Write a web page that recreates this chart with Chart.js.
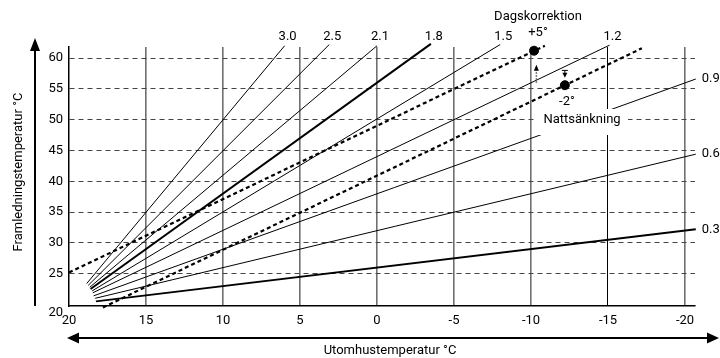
<!DOCTYPE html>
<html>
<head>
<meta charset="utf-8">
<script src="https://cdn.jsdelivr.net/npm/chart.js@4/dist/chart.umd.min.js"></script>
<style>
  html, body { margin: 0; padding: 0; background: #fff; }
  #wrap { width: 720px; height: 358px; position: relative; }
</style>
</head>
<body>
<div id="wrap"><canvas id="chart"></canvas></div>
<script>
// heating curves: where each drawn line starts and stops (outdoor °C, flow °C)
const curveLabels = ["3.0", "2.5", "2.1", "1.8", "1.5", "1.2", "0.9", "0.6", "0.3"];
const curveStartOut = [18.85, 18.75, 18.65, 18.6, 18.5, 18.45, 18.4, 18.3, 18.25];
const curveStartFlow = [23.4, 23.1, 22.8, 22.5, 22.2, 21.9, 21.4, 21.0, 20.5];
const curveEndOut = [6.0, 3.1, 0.0, -3.5, -8.0, -15.1, -20.7, -20.7, -20.7];
const curveEndFlow = [62.0, 62.2, 62.0, 62.3, 62.2, 62.1, 56.6, 44.4, 32.2];
const curveBold = [false, false, false, true, false, false, false, false, true];

// shifted curves (dashed)
const dayShiftOut = [20, -10.9];
const dayShiftFlow = [25.2, 62.0];
const nightShiftOut = [17.8, -17.2];
const nightShiftFlow = [19.5, 61.6];

// marked points and the little arrows pointing at them
const markOut = [-10.2, -12.2];
const markFlow = [61.2, 55.6];
const arrowOut = [-10.35, -12.2];
const arrowFrom = [56.0, 58.0];
const arrowTo = [58.9, 56.8];

const xTicks = [20, 15, 10, 5, 0, -5, -10, -15, -20];
const yTicks = [20, 25, 30, 35, 40, 45, 50, 55, 60];

const FONT = "Roboto, 'Liberation Sans', sans-serif";
Chart.defaults.font.family = FONT;
Chart.defaults.font.size = 13;
Chart.defaults.color = "#000";

const datasets = curveLabels.map((lab, i) => ({
  label: lab,
  data: [{ x: curveStartOut[i], y: curveStartFlow[i] }, { x: curveEndOut[i], y: curveEndFlow[i] }],
  showLine: true,
  borderColor: "#000",
  borderWidth: curveBold[i] ? 2 : 1,
  pointRadius: 0,
  clip: false
}));

function dashed(name, xs, ys) {
  return {
    label: name,
    data: xs.map((v, i) => ({ x: v, y: ys[i] })),
    showLine: true,
    borderColor: "#000",
    borderWidth: 2.2,
    borderDash: [4, 3],
    pointRadius: 0,
    clip: false
  };
}
datasets.push(dashed("dag", dayShiftOut, dayShiftFlow));
datasets.push(dashed("natt", nightShiftOut, nightShiftFlow));
datasets.push({
  label: "punkter",
  data: markOut.map((v, i) => ({ x: v, y: markFlow[i] })),
  showLine: false,
  pointRadius: 4.5,
  pointBackgroundColor: "#000",
  pointBorderColor: "#000",
  clip: false
});

function text(ctx, str, x, y, align) {
  ctx.textAlign = align || "center";
  ctx.textBaseline = "middle";
  ctx.fillText(str, x, y);
}

const decor = {
  id: "decor",
  afterDatasetsDraw(chart) {
    const { ctx, scales: { x, y } } = chart;
    ctx.save();
    ctx.fillStyle = "#000";
    ctx.strokeStyle = "#000";
    ctx.font = "13px " + FONT;

    // up arrow (dagskorrektion)
    let ax = x.getPixelForValue(arrowOut[0]);
    let a0 = y.getPixelForValue(arrowFrom[0]);
    let a1 = y.getPixelForValue(arrowTo[0]);
    ctx.strokeStyle = "#555";
    ctx.lineWidth = 1.5;
    ctx.setLineDash([1.5, 1.5]);
    ctx.beginPath(); ctx.moveTo(ax, a0); ctx.lineTo(ax, a1 + 5); ctx.stroke();
    ctx.setLineDash([]);
    ctx.beginPath(); ctx.moveTo(ax, a1); ctx.lineTo(ax - 2.5, a1 + 6); ctx.lineTo(ax + 2.5, a1 + 6); ctx.closePath(); ctx.fill();

    // down arrow (nattsänkning)
    ax = x.getPixelForValue(arrowOut[1]);
    a0 = y.getPixelForValue(arrowFrom[1]);
    a1 = y.getPixelForValue(arrowTo[1]);
    ctx.strokeStyle = "#000";
    ctx.lineWidth = 1;
    ctx.beginPath(); ctx.moveTo(ax - 3, a0); ctx.lineTo(ax + 3, a0); ctx.moveTo(ax, a0); ctx.lineTo(ax, a1 - 4); ctx.stroke();
    ctx.beginPath(); ctx.moveTo(ax, a1); ctx.lineTo(ax - 2.5, a1 - 5); ctx.lineTo(ax + 2.5, a1 - 5); ctx.closePath(); ctx.fill();

    // annotation texts
    text(ctx, "Dagskorrektion", 538, 17);
    text(ctx, "+5°", 538, 33);
    text(ctx, "-2°", 567, 102);
    ctx.fillStyle = "#fff";
    ctx.fillRect(535, 109, 93, 26);
    ctx.fillStyle = "#000";
    text(ctx, "Nattsänkning", 582, 120);

    // curve labels at the line ends
    curveLabels.forEach((lab, i) => {
      const p = chart.getDatasetMeta(i).data[1];
      if (curveEndFlow[i] > 60) text(ctx, lab, p.x + 3, 37);
      else text(ctx, lab, p.x + 6, p.y, "left");
    });
    ctx.restore();
  },
  afterDraw(chart) {
    const { ctx } = chart;
    ctx.save();
    ctx.fillStyle = "#000";
    ctx.strokeStyle = "#000";
    ctx.lineWidth = 2;
    // vertical axis arrow
    ctx.beginPath(); ctx.moveTo(35, 306); ctx.lineTo(35, 50); ctx.stroke();
    ctx.beginPath(); ctx.moveTo(35, 38); ctx.lineTo(30, 51); ctx.lineTo(40, 51); ctx.closePath(); ctx.fill();
    // horizontal double arrow
    ctx.beginPath(); ctx.moveTo(78, 338); ctx.lineTo(707, 338); ctx.stroke();
    ctx.beginPath(); ctx.moveTo(67, 338); ctx.lineTo(79, 332.5); ctx.lineTo(79, 343.5); ctx.closePath(); ctx.fill();
    ctx.beginPath(); ctx.moveTo(719, 338); ctx.lineTo(707, 332.5); ctx.lineTo(707, 343.5); ctx.closePath(); ctx.fill();

    ctx.font = "13px " + FONT;
    text(ctx, "Utomhustemperatur °C", 390, 351);
    ctx.translate(19, 172);
    ctx.rotate(-Math.PI / 2);
    text(ctx, "Framledningstemperatur °C", 0, 0);
    ctx.restore();
  }
};

new Chart(document.getElementById("chart"), {
  type: "scatter",
  data: { datasets },
  options: {
    responsive: true,
    maintainAspectRatio: false,
    animation: false,
    layout: { padding: { top: 47, right: 25, left: 0, bottom: 0 } },
    plugins: { legend: { display: false }, tooltip: { enabled: false } },
    scales: {
      x: {
        type: "linear",
        reverse: true,
        min: -20.65,
        max: 20,
        afterBuildTicks: s => { s.ticks = xTicks.map(v => ({ value: v })); },
        afterFit: s => { s.height = 52; },
        grid: {
          drawTicks: false,
          color: c => c.tick.value === 20 ? "rgba(0,0,0,0)" : (c.tick.value === -15 ? "#000" : "#707070"),
          lineWidth: c => c.tick.value === -15 ? 1 : 1.6
        },
        border: { display: true, color: "#000", width: 1.5 },
        ticks: { padding: 7, maxRotation: 0, autoSkip: false, callback: v => String(v) }
      },
      y: {
        type: "linear",
        min: 19.75,
        max: 61.8,
        afterBuildTicks: s => { s.ticks = yTicks.map(v => ({ value: v })); },
        afterFit: s => { s.width = 69; },
        grid: {
          drawTicks: false,
          color: c => c.tick.value === 20 ? "rgba(0,0,0,0)" : "#444",
          lineWidth: 1
        },
        border: { display: true, color: "#000", width: 1.5, dash: [5, 4] },
        ticks: { padding: 6, autoSkip: false, callback: v => v === 20 ? ["", "20"] : String(v) }
      }
    }
  },
  plugins: [decor]
});
</script>
</body>
</html>
